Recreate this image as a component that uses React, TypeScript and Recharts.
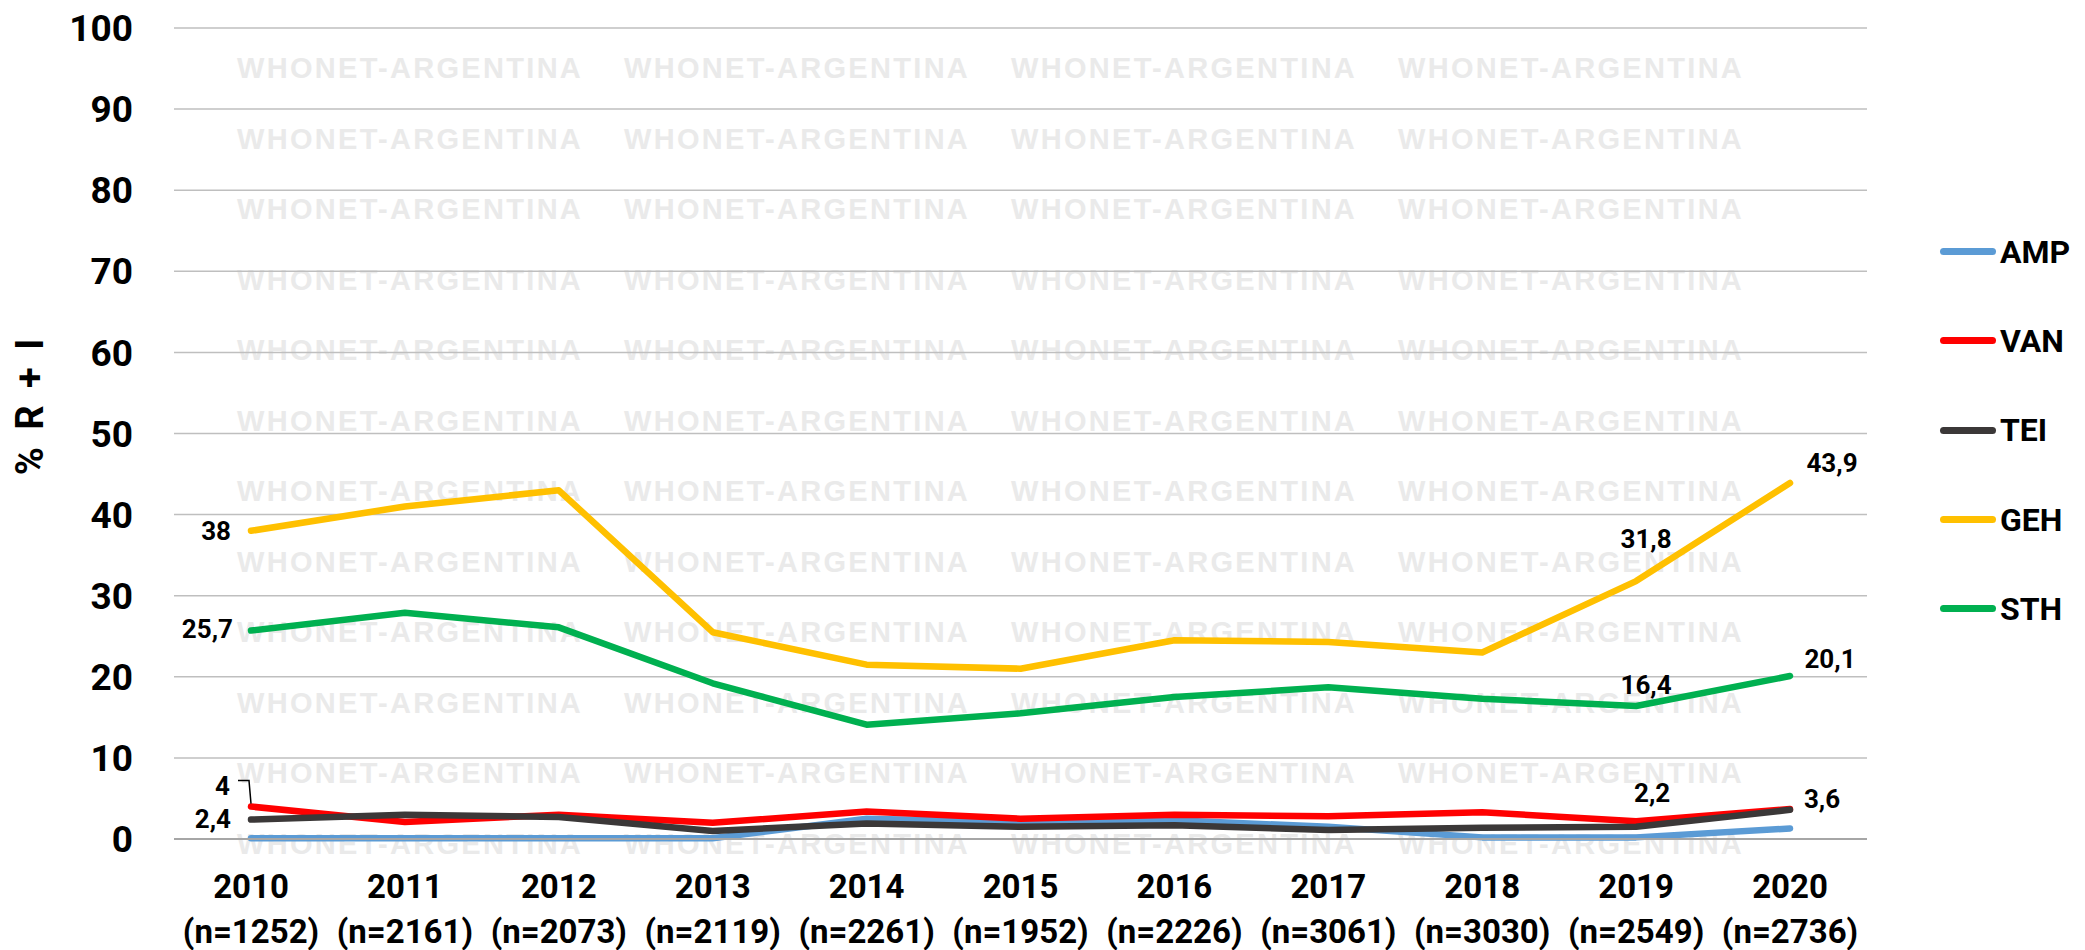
import { LineChart, Line, XAxis, YAxis, CartesianGrid, Legend, LabelList, Label } from "recharts"

const years = ["2010", "2011", "2012", "2013", "2014", "2015", "2016", "2017", "2018", "2019", "2020"]
const counts = ["(n=1252)", "(n=2161)", "(n=2073)", "(n=2119)", "(n=2261)", "(n=1952)", "(n=2226)", "(n=3061)", "(n=3030)", "(n=2549)", "(n=2736)"]

const amp = [0.1, 0.1, 0.1, 0.1, 2.5, 2.1, 2.3, 1.5, 0.2, 0.2, 1.3]
const van = [4, 2.1, 3.0, 2.0, 3.4, 2.5, 3.0, 2.8, 3.3, 2.2, 3.7]
const tei = [2.4, 3.0, 2.7, 1.0, 1.9, 1.5, 1.7, 1.1, 1.4, 1.5, 3.6]
const geh = [38, 41, 43, 25.5, 21.5, 21.0, 24.5, 24.3, 23.0, 31.8, 43.9]
const sth = [25.7, 27.9, 26.1, 19.2, 14.1, 15.5, 17.5, 18.7, 17.3, 16.4, 20.1]

const yTicks = [0, 10, 20, 30, 40, 50, 60, 70, 80, 90, 100]

const series = [
  { key: "AMP", color: "#5B9BD5", values: amp },
  { key: "VAN", color: "#FF0000", values: van },
  { key: "TEI", color: "#3B3838", values: tei },
  { key: "GEH", color: "#FFC000", values: geh },
  { key: "STH", color: "#00B050", values: sth },
]

const chartData = years.map((year, i) => {
  const row: Record<string, any> = { year }
  series.forEach((s) => {
    row[s.key] = s.values[i]
  })
  return row
})

// where each shown value label sits relative to its point
const labelSpots: Record<string, Record<number, { dx: number; dy: number; anchor: string }>> = {
  VAN: { 0: { dx: -21, dy: -21, anchor: "end" }, 9: { dx: 16, dy: -28, anchor: "middle" } },
  TEI: { 0: { dx: -20, dy: -1, anchor: "end" }, 10: { dx: 32, dy: -11, anchor: "middle" } },
  GEH: { 0: { dx: -20, dy: 0, anchor: "end" }, 9: { dx: 10, dy: -42, anchor: "middle" }, 10: { dx: 42, dy: -20, anchor: "middle" } },
  STH: { 0: { dx: -18, dy: -2, anchor: "end" }, 9: { dx: 10, dy: -21, anchor: "middle" }, 10: { dx: 40, dy: -17, anchor: "middle" } },
}

const fmt = (v: number) => String(v).replace(".", ",")

const makeLabel = (name: string) => (props: any) => {
  const spot = labelSpots[name]?.[props.index]
  if (!spot) return null
  const { x, y, value } = props
  return (
    <g>
      {name === "VAN" && props.index === 0 && (
        <polyline points={`${x - 13},${y - 26} ${x - 2},${y - 26} ${x},${y - 3}`} fill="none" stroke="#000" strokeWidth={1.5} />
      )}
      <text x={x + spot.dx} y={y + spot.dy} textAnchor={spot.anchor} dominantBaseline="central" fontSize={26} fontWeight="bold" fill="#000">
        {fmt(value)}
      </text>
    </g>
  )
}

const YearTick = ({ x, y, payload, index }: any) => {
  const i = payload?.index ?? index
  return (
    <g transform={`translate(${x},${y})`}>
      <text textAnchor="middle" fontSize={33} fontWeight="bold" fill="#000">
        <tspan x={0} dy={59}>{payload.value}</tspan>
        <tspan x={0} dy={45}>{counts[i]}</tspan>
      </text>
    </g>
  )
}

const renderLegend = () => (
  <div>
    {series.map((s) => (
      <div key={s.key} style={{ display: "flex", alignItems: "center", height: 89.3 }}>
        <div style={{ width: 56, height: 7, borderRadius: 4, background: s.color, marginRight: 4 }} />
        <span style={{ fontSize: 32, fontWeight: "bold", color: "#000", lineHeight: 1 }}>{s.key}</span>
      </div>
    ))}
  </div>
)

const Watermark = () => {
  const rows = Array.from({ length: 12 }, (_, k) => 68.3 + 70.5 * k)
  const cols = [237, 624, 1011, 1398]
  return (
    <svg width={2085} height={950} style={{ position: "absolute", left: 0, top: 0 }}>
      {rows.map((ry) =>
        cols.map((cx) => (
          <text
            key={`${ry}-${cx}`}
            x={cx}
            y={ry}
            dominantBaseline="central"
            fontFamily="'Liberation Sans', Arial, sans-serif"
            fontWeight="bold"
            fontSize={29}
            letterSpacing={2.3}
            fill="#EAEAEA"
          >
            WHONET-ARGENTINA
          </text>
        ))
      )}
    </svg>
  )
}

export default function App() {
  return (
    <div style={{ position: "absolute", left: 0, top: 0, width: 2085, height: 950, background: "#fff", fontFamily: "Roboto, sans-serif" }}>
      <Watermark />
      <div style={{ position: "absolute", left: 0, top: 0 }}>
        <LineChart width={2085} height={950} data={chartData} margin={{ top: 28, right: 218, bottom: 0, left: 74 }}>
          <CartesianGrid vertical={false} stroke="#BFBFBF" strokeWidth={1.5} />
          <XAxis
            dataKey="year"
            height={111}
            tickLine={false}
            tickSize={0}
            tickMargin={0}
            interval={0}
            padding={{ left: 77, right: 77 }}
            axisLine={{ stroke: "#A6A6A6", strokeWidth: 2 }}
            tick={<YearTick />}
          />
          <YAxis
            width={100}
            domain={[0, 100]}
            ticks={yTicks}
            axisLine={false}
            tickLine={false}
            tickSize={0}
            tickMargin={41}
            tick={{ fontSize: 37, fontWeight: "bold", fill: "#000" }}
          >
            <Label
              content={() => (
                <text x={30} y={405} transform="rotate(-90 30 405)" textAnchor="middle" dominantBaseline="central" fontSize={38} letterSpacing={4} fontWeight="bold" fill="#000">
                  % R + I
                </text>
              )}
            />
          </YAxis>
          <Legend
            layout="vertical"
            align="center"
            verticalAlign="middle"
            content={renderLegend}
            wrapperStyle={{ left: 1940, top: 207, width: 145 }}
          />
          {series.map((s) => (
            <Line
              key={s.key}
              type="linear"
              dataKey={s.key}
              stroke={s.color}
              strokeWidth={6.5}
              strokeLinecap="round"
              strokeLinejoin="round"
              dot={false}
              activeDot={false}
              isAnimationActive={false}
            >
              {labelSpots[s.key] && <LabelList dataKey={s.key} content={makeLabel(s.key)} />}
            </Line>
          ))}
        </LineChart>
      </div>
    </div>
  )
}
